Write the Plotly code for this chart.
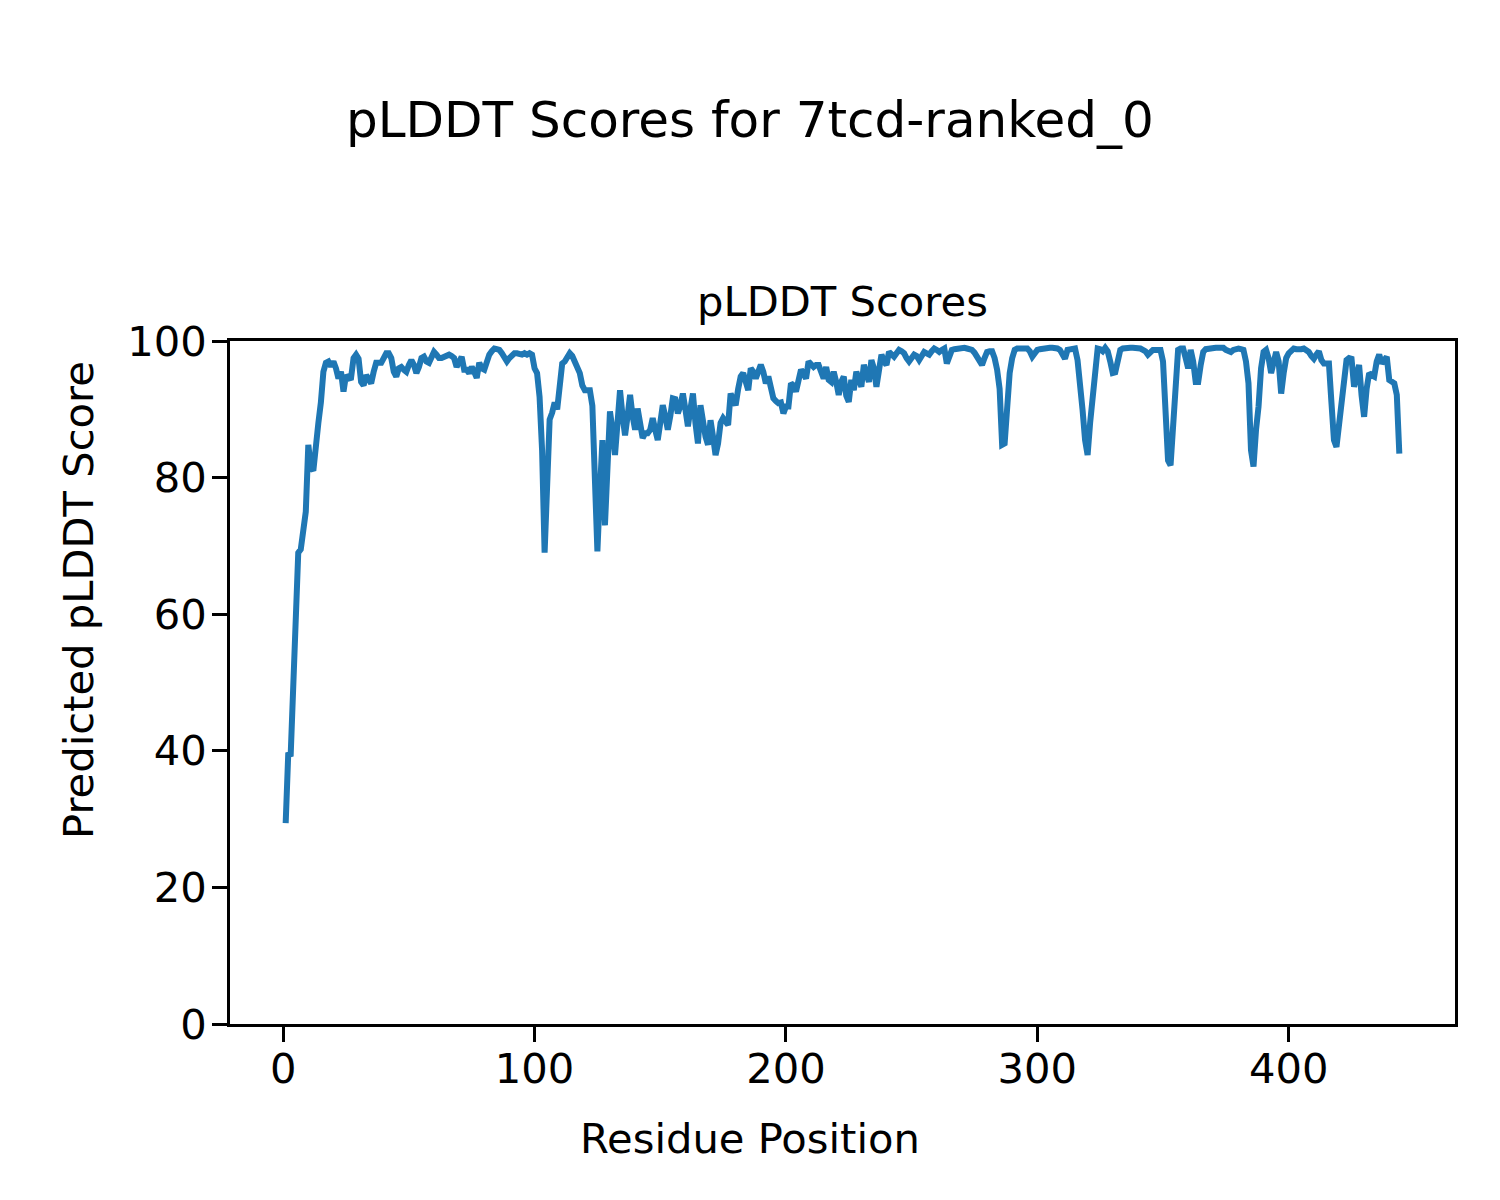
import plotly.graph_objects as go

# ---- data ----
residue_positions = list(range(1, 445))
plddt_scores = [
    29.4, 39.4, 39.5, 50.0, 61.0, 69.0, 69.5, 72.0, 75.0, 84.8,
    81.5, 81.0, 85.5, 88.0, 91.0, 95.5, 96.8, 97.0, 96.3, 97.0,
    96.0, 94.5, 95.5, 92.6, 95.0, 94.5, 94.6, 97.5, 98.0, 97.4,
    94.0, 93.5, 95.0, 94.5, 93.8, 95.5, 96.8, 96.8, 96.8, 97.5,
    98.2, 98.2, 97.5, 95.5, 94.8, 96.0, 96.2, 95.8, 95.5, 96.5,
    97.2, 96.5, 95.3, 96.2, 97.5, 97.7, 97.0, 96.8, 97.5, 98.4,
    98.0, 97.5, 97.5, 97.6, 97.8, 98.0, 97.8, 97.5, 96.2, 97.0,
    97.7, 95.8, 95.8, 95.3, 96.2, 95.5, 94.6, 96.8, 96.0, 95.8,
    97.0, 98.0, 98.5, 98.9, 98.8, 98.7, 98.2, 97.5, 97.0, 97.5,
    98.0, 98.2, 98.2, 98.0, 98.0, 98.2, 98.0, 98.2, 98.0, 96.0,
    95.3, 91.8, 84.0, 69.0, 79.0, 88.5, 89.5, 91.0, 90.0, 94.0,
    96.7, 97.0, 97.5, 98.2, 97.8, 97.0, 96.0, 95.3, 93.5, 92.8,
    92.8, 92.8, 90.5, 80.0, 69.2, 78.0, 85.5, 73.0, 80.0, 89.7,
    87.0, 83.3, 88.0, 92.8, 89.0, 86.2, 89.0, 92.1, 89.0, 87.0,
    90.1, 88.0, 85.8, 86.5, 86.5, 87.0, 88.7, 87.0, 85.5, 88.0,
    90.6, 89.0, 87.0, 89.0, 91.6, 91.5, 89.4, 90.5, 92.3, 90.0,
    87.5, 90.0, 92.3, 88.0, 85.0, 90.6, 88.0, 86.0, 84.8, 88.4,
    86.0, 83.3, 85.0, 88.0, 88.7, 88.0, 87.7, 92.3, 91.5, 90.6,
    93.0, 94.8, 95.3, 93.5, 92.8, 96.0, 95.5, 94.5, 95.5, 96.5,
    95.5, 93.8, 94.8, 93.5, 91.6, 91.2, 90.9, 91.0, 89.4, 90.4,
    90.4, 93.8, 93.5, 92.6, 94.0, 95.8, 95.2, 94.5, 97.0, 96.5,
    96.2, 96.5, 96.5, 95.5, 94.5, 96.2, 94.3, 94.0, 95.5, 94.0,
    92.1, 94.0, 94.8, 92.0, 91.1, 94.3, 92.8, 95.5, 94.0, 93.3,
    96.5, 95.5, 94.0, 97.2, 96.0, 93.3, 96.0, 98.0, 97.0, 96.5,
    98.4, 98.0, 97.7, 98.2, 98.7, 98.5, 98.2, 97.5, 97.0, 97.5,
    98.0, 97.8, 97.2, 97.8, 98.4, 98.2, 98.0, 98.5, 98.9, 98.7,
    98.4, 98.7, 98.9, 96.7, 97.8, 98.7, 98.8, 98.9, 99.0, 99.0,
    99.0, 98.9, 98.8, 98.7, 98.3, 97.7, 97.5, 96.5, 97.5, 98.4,
    98.5, 98.5, 97.5, 95.8, 93.0, 84.8, 85.0, 91.0, 95.3, 97.5,
    98.7, 98.9, 98.8, 98.9, 98.9, 98.9, 98.5, 97.7, 98.2, 98.7,
    98.8, 98.9, 99.0, 99.0, 99.0, 99.0, 99.0, 98.9, 98.7, 98.0,
    97.4, 98.7, 98.8, 98.9, 98.9, 97.2, 94.0, 89.9, 85.5, 83.3,
    88.0, 92.5, 97.0, 98.9, 98.8, 98.5, 99.0, 98.5, 97.0, 95.3,
    95.4, 97.5, 98.7, 98.9, 99.0, 99.0, 99.0, 99.0, 99.0, 98.9,
    98.9, 98.7, 98.5, 98.0, 98.5, 98.7, 98.7, 98.7, 98.7, 97.0,
    91.4, 82.5, 81.8, 87.0, 93.0, 98.7, 98.9, 98.9, 97.5, 96.0,
    98.7, 97.0, 94.0, 94.0, 96.5, 98.4, 98.8, 98.9, 99.0, 99.0,
    99.0, 99.0, 99.0, 99.0, 98.7, 98.5, 98.4, 98.7, 98.9, 98.9,
    98.8, 98.7, 97.0, 93.8, 84.0, 81.6, 87.0, 90.4, 96.0, 98.4,
    98.7, 97.5, 95.3, 97.5, 98.4, 97.0, 92.3, 95.3, 97.5, 98.2,
    98.6, 98.9, 98.8, 98.7, 98.8, 98.9, 98.7, 98.4, 97.8, 97.4,
    98.0, 98.5, 97.2, 96.7, 96.7, 96.7, 91.0, 85.5, 84.5, 88.0,
    92.0, 95.5, 97.2, 97.5, 97.4, 93.3, 95.0, 96.5, 92.0, 88.9,
    93.0, 95.3, 95.0, 94.8, 97.0, 98.0, 96.7, 97.2, 97.7, 94.3,
    94.0, 93.8, 92.1, 83.5,
]
x_ticks = [0, 100, 200, 300, 400]
y_ticks = [0, 20, 40, 60, 80, 100]

suptitle = "pLDDT Scores for 7tcd-ranked_0"
axes_title = "pLDDT Scores"
x_label = "Residue Position"
y_label = "Predicted pLDDT Score"

# ---- figure ----
OFF = 8                      # page body margin offset
W, H = 1500 - OFF, 1200 - OFF
L, R, T, B = 230 - OFF, 1455 - OFF, 341 - OFF, 1024 - OFF   # plot-area box
FONT = "DejaVu Sans"
fs = 41.67

def px_to_paper(px, py):
    px -= OFF
    py -= OFF
    return (px - L) / (R - L), (B - py) / (B - T)

fig = go.Figure()
fig.add_trace(go.Scatter(
    x=residue_positions, y=plddt_scores, mode="lines",
    line=dict(color="#1f77b4", width=6), showlegend=False,
))

span = residue_positions[-1] - residue_positions[0]
xr = [residue_positions[0] - 0.05 * span, residue_positions[-1] + 0.05 * span]

axis_common = dict(
    showline=True, linecolor="black", linewidth=3, mirror=True,
    ticks="outside", ticklen=15, tickwidth=3, tickcolor="black",
    showgrid=False, zeroline=False,
    tickfont=dict(family=FONT, size=fs, color="black"),
)
fig.update_xaxes(range=xr, tickvals=x_ticks, ticktext=[str(v) for v in x_ticks],
                 ticklabelstandoff=-9, **axis_common)
fig.update_yaxes(range=[0, 100], tickvals=y_ticks, ticktext=[str(v) for v in y_ticks],
                 ticklabelstandoff=-3, **axis_common)

annots = []
x, y = px_to_paper(750, 120)
annots.append(dict(text=suptitle, x=x, y=y, font=dict(size=50, family=FONT, color="black")))
x, y = px_to_paper(842.5, 302)
annots.append(dict(text=axes_title, x=x, y=y, font=dict(size=fs, family=FONT, color="black")))
x, y = px_to_paper(750, 1138)
annots.append(dict(text=x_label, x=x, y=y, font=dict(size=fs, family=FONT, color="black")))
x, y = px_to_paper(78, 600)
annots.append(dict(text=y_label, x=x, y=y, textangle=-90, font=dict(size=fs, family=FONT, color="black")))
for a in annots:
    a.update(xref="paper", yref="paper", xanchor="center", yanchor="middle", showarrow=False)

fig.update_layout(
    width=W, height=H, autosize=False,
    margin=dict(l=L, r=W - R, t=T, b=H - B, pad=0),
    paper_bgcolor="white", plot_bgcolor="white",
    font=dict(family=FONT, color="black"),
    annotations=annots,
)

fig.write_html("out.html")
